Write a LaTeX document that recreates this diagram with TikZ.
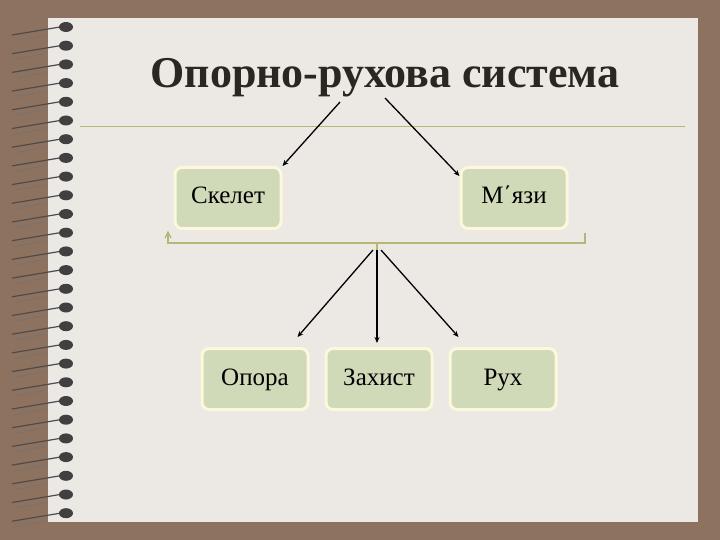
\documentclass[tikz,border=0pt]{standalone}
\usepackage{fontspec}
\setmainfont{Liberation Serif}
\usetikzlibrary{arrows.meta}
\newcommand\myboxfont{\fontsize{25}{28}\selectfont}
\newcommand\mytitlefont{\fontsize{44}{48}\selectfont\bfseries}
\definecolor{bgbrown}{HTML}{8E7260}
\definecolor{paper}{HTML}{ECE9E5}
\definecolor{boxfill}{HTML}{D0D9B8}
\definecolor{boxedge}{HTML}{FBF8DC}
\definecolor{olive}{HTML}{B4B874}
\definecolor{titlec}{HTML}{2A2620}
\begin{document}
\begin{tikzpicture}[x=1pt,y=-1pt,
  tbox/.style={draw=boxedge,line width=3pt,fill=boxfill,rounded corners=7pt,minimum width=106pt,minimum height=61pt,text height=17pt,text depth=5pt,font=\myboxfont},
  arr/.style={-{Stealth[length=6pt,width=5pt]},line width=1.3pt}]
\fill[bgbrown] (0,0) rectangle (720,540);
\fill[paper] (48,18) rectangle (698,522);
\foreach \i in {0,...,26}{
  \pgfmathsetmacro{\yy}{27+\i*18.7}
  \draw[line width=1.2pt,black!70] (12,\yy+8) -- (60,\yy);
  \draw[line width=0.8pt,black!55] (14,\yy+14) -- (45,\yy+8);
  \fill[black!75] (66,\yy) ellipse (7pt and 5pt);
}
\node[font=\mytitlefont,text=titlec] (title) at (385,78) {Опорно-рухова система};
\draw[olive,line width=0.8pt] (80,126) -- (685,126);
\node[tbox] (sk) at (228,198) {Скелет};
\node[tbox] (mz) at (514,198) {М΄язи};
\node[tbox] (op) at (255,379) {Опора};
\node[tbox] (za) at (379,379) {Захист};
\node[tbox] (ru) at (503,379) {Рух};
\coordinate (t1) at (340,102);
\coordinate (t2) at (385,98);
\draw[arr] (t1) -- (sk.north east);
\draw[arr] (t2) -- ([yshift=-10pt]mz.north west);
\draw[olive,line width=1.3pt] (168,233) -- (168,243) -- (585,243) -- (585,233);
\draw[olive,line width=1.2pt] (165,238) -- (168,232) -- (171,238);
\coordinate (bc) at (377,250);
\draw[olive,line width=1.2pt] (377,243) -- (bc);
\draw[arr] ([xshift=-4pt]bc) -- ([xshift=-12pt,yshift=10pt]op.north east);
\draw[arr] (bc) -- ([xshift=-2pt,yshift=4pt]za.north);
\draw[arr] ([xshift=4pt]bc) -- ([xshift=10pt,yshift=10pt]ru.north west);
\end{tikzpicture}
\end{document}
